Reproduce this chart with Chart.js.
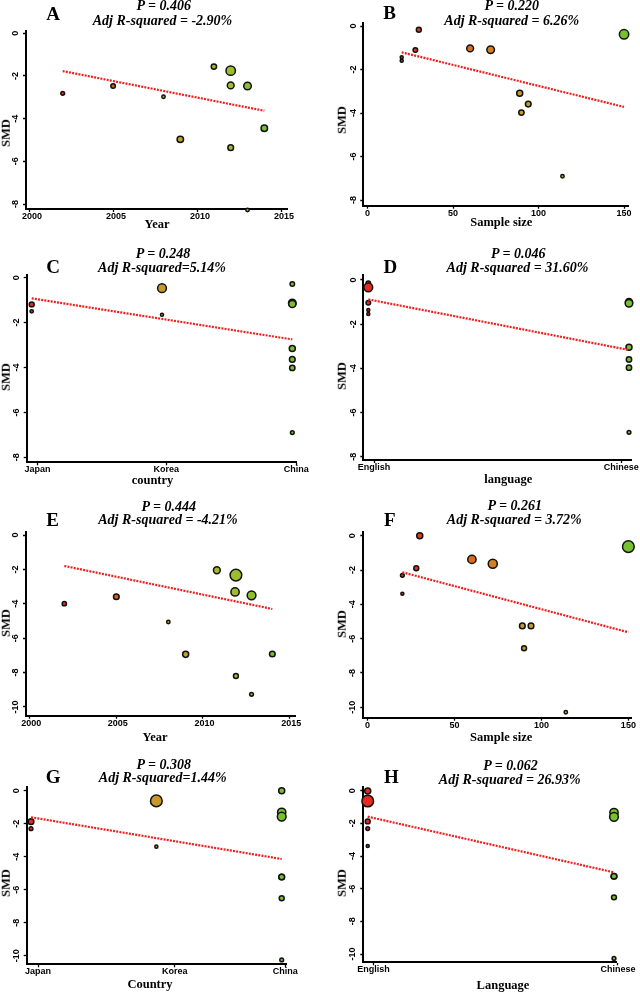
<!DOCTYPE html>
<html><head><meta charset="utf-8">
<script src="https://cdn.jsdelivr.net/npm/chart.js@4.4.1/dist/chart.umd.min.js"></script>
<style>
html,body{margin:0;padding:0;background:#fff;}
#wrap{position:relative;width:640px;height:992px;overflow:hidden;background:#fff;}
canvas{position:absolute;}
.t{position:absolute;white-space:nowrap;line-height:1;color:#000;font-family:"Liberation Serif","Times New Roman",serif;font-weight:bold;}
</style></head><body><div id="wrap"></div>
<script>
// ---------- tick labels / categories ----------
const yearTicks = [2000, 2005, 2010, 2015];
const sizeTicks = [0, 50, 100, 150];
const smdTicks8 = [0, -2, -4, -6, -8];
const smdTicks10 = [0, -2, -4, -6, -8, -10];
const countries = ['Japan', 'Korea', 'China'];
const languages = ['English', 'Chinese'];

// ---------- Panel A : SMD vs year ----------
const yearA = [2002, 2005, 2008, 2009, 2011, 2012, 2012, 2013, 2012, 2014, 2013];
const smdA = [-2.81, -2.47, -2.97, -4.97, -1.56, -1.75, -2.44, -2.47, -5.36, -4.45, -8.28];
const weightA = [4.3, 5.8, 3.7, 10.5, 7.6, 20.2, 11.4, 13.8, 8.4, 10.5, 3.7];
const fitXA = [2002, 2014];
const fitYA = [-1.77, -3.63];

// ---------- Panel B : SMD vs sample size ----------
const sizeB = [30, 28, 20, 20, 60, 72, 89, 94, 90, 114, 150];
const smdB = [-0.17, -1.10, -1.44, -1.60, -1.03, -1.09, -3.09, -3.59, -3.98, -6.91, -0.38];
const weightB = [6.6, 5.8, 3.2, 3.2, 11.4, 13.8, 9.3, 8.4, 7.6, 3.7, 20.2];
const fitXB = [20, 150];
const fitYB = [-1.21, -3.72];

// ---------- Panel C : SMD vs country ----------
const countryC = ['Japan', 'Japan', 'Korea', 'Korea', 'China', 'China', 'China', 'China', 'China', 'China', 'China'];
const smdC = [-1.19, -1.50, -0.47, -1.65, -0.28, -1.13, -1.17, -3.15, -3.64, -4.02, -6.90];
const weightC = [6.6, 3.7, 17.7, 3.2, 5.8, 13.8, 12.4, 9.3, 8.4, 7.6, 4.3];
const fitXC = ['Japan', 'China'];
const fitYC = [-0.92, -2.75];

// ---------- Panel D : SMD vs language ----------
const languageD = ['English', 'English', 'English', 'English', 'English', 'Chinese', 'Chinese', 'Chinese', 'Chinese', 'Chinese', 'Chinese'];
const smdD = [-0.15, -0.33, -1.03, -1.36, -1.54, -1.00, -1.05, -3.05, -3.60, -3.97, -6.90];
const weightD = [5.8, 17.7, 5.8, 3.2, 3.2, 12.4, 13.8, 9.3, 7.6, 7.6, 4.3];
const fitXD = ['English', 'Chinese'];
const fitYD = [-0.88, -3.17];

// ---------- Panel E : SMD vs year ----------
const yearE = [2002, 2005, 2008, 2009, 2010.8, 2011.9, 2011.85, 2012.8, 2011.9, 2012.8, 2014];
const smdE = [-3.99, -3.59, -5.06, -6.94, -2.05, -2.33, -3.31, -3.51, -8.20, -9.26, -6.92];
const weightE = [5.2, 8.4, 3.7, 9.3, 11.4, 29.8, 16.1, 17.7, 6.6, 4.3, 8.4];
const fitXE = [2002, 2014];
const fitYE = [-1.80, -4.30];

// ---------- Panel F : SMD vs sample size ----------
const sizeF = [30, 28, 20, 20, 60, 72, 89, 94, 90, 114, 150];
const smdF = [0.00, -1.90, -2.31, -3.38, -1.38, -1.63, -5.26, -5.26, -6.56, -10.29, -0.64];
const weightF = [9.3, 6.6, 4.3, 3.2, 16.1, 18.9, 8.4, 8.4, 6.6, 3.7, 29.8];
const fitXF = [20, 150];
const fitYF = [-2.13, -5.63];

// ---------- Panel G : SMD vs country ----------
const countryG = ['Japan', 'Japan', 'Korea', 'Korea', 'China', 'China', 'China', 'China', 'China', 'China', 'China'];
const smdG = [-1.88, -2.30, -0.62, -3.39, 0.00, -1.31, -1.57, -5.23, -5.23, -6.52, -10.26];
const weightG = [8.4, 4.3, 29.8, 3.2, 9.3, 16.1, 17.7, 8.4, 8.4, 6.6, 4.3];
const fitXG = ['Japan', 'China'];
const fitYG = [-1.61, -4.14];

// ---------- Panel H : SMD vs language ----------
const languageH = ['English', 'English', 'English', 'English', 'English', 'Chinese', 'Chinese', 'Chinese', 'Chinese', 'Chinese', 'Chinese'];
const smdH = [-0.02, -0.63, -1.88, -2.32, -3.39, -1.34, -1.60, -5.24, -5.24, -6.53, -10.27];
const weightH = [9.3, 29.8, 6.6, 4.3, 3.2, 16.1, 17.7, 8.4, 8.4, 6.6, 4.3];
const fitXH = ['English', 'Chinese'];
const fitYH = [-1.59, -5.00];

// ---------- helpers ----------
const catCode = (list) => (v) => list.indexOf(v) + 1;
const ramp = [[0, [232, 42, 28]], [0.3, [218, 106, 30]], [0.5, [200, 152, 42]], [0.7, [176, 180, 42]], [0.85, [152, 192, 44]], [1, [120, 192, 48]]];
function colorAt(t) {
  t = Math.max(0, Math.min(1, t));
  for (let i = 1; i < ramp.length; i++) {
    if (t <= ramp[i][0]) {
      const a = ramp[i - 1], b = ramp[i];
      const f = (t - a[0]) / (b[0] - a[0]);
      const c = a[1].map((v, k) => Math.round(v + (b[1][k] - v) * f));
      return 'rgb(' + c.join(',') + ')';
    }
  }
  return 'rgb(120,192,48)';
}
const radiusOf = (w) => Math.sqrt(w) * 1.17 - 0.55;

const SANS = '"Liberation Sans", Arial, sans-serif';
const wrap = document.getElementById('wrap');

function txt(s, cx, base, size, italic) {
  const d = document.createElement('div');
  d.className = 't';
  d.textContent = s;
  d.style.fontSize = size + 'px';
  if (italic) d.style.fontStyle = 'italic';
  d.style.left = cx + 'px';
  d.style.top = (base - 0.8375 * size) + 'px';
  d.style.transform = 'translateX(-50%)';
  wrap.appendChild(d);
}
function vtxt(s, cx, cy, size) {
  const d = document.createElement('div');
  d.className = 't';
  d.textContent = s;
  d.style.fontSize = size + 'px';
  d.style.left = cx + 'px';
  d.style.top = cy + 'px';
  d.style.transform = 'translate(-50%,-50%) rotate(-90deg)';
  wrap.appendChild(d);
}

function panel(p) {
  const [cx, cy, cw, ch] = p.canvas;
  const [L, T, R, B] = p.area;
  const cv = document.createElement('canvas');
  cv.width = cw; cv.height = ch;
  cv.style.left = cx + 'px'; cv.style.top = cy + 'px';
  cv.style.width = cw + 'px'; cv.style.height = ch + 'px';
  wrap.appendChild(cv);

  const xs = p.xs, ys = p.ys, ws = p.ws;
  const xmin = Math.min(...xs), xmax = Math.max(...xs);
  const pts = xs.map((x, i) => ({x: x, y: ys[i]}));
  const cols = xs.map(x => colorAt((x - xmin) / (xmax - xmin)));
  const fit = p.fx.map((x, i) => ({x: x, y: p.fy[i]}));

  new Chart(cv, {
    type: 'scatter',
    data: {
      datasets: [
        {
          data: pts, order: 1, clip: false,
          pointRadius: ws.map(radiusOf),
          pointHoverRadius: ws.map(radiusOf),
          pointBackgroundColor: cols,
          pointBorderColor: '#111',
          pointBorderWidth: 1.5
        },
        {
          type: 'line', data: fit, order: 0,
          borderColor: '#f01e1e', borderWidth: 2.2, borderDash: [2, 1.2],
          pointRadius: 0, fill: false, showLine: true, tension: 0
        }
      ]
    },
    options: {
      responsive: false, animation: false, events: [],
      devicePixelRatio: 1,
      layout: {padding: {left: 0, top: T - cy, right: cx + cw - R, bottom: 0}},
      plugins: {legend: {display: false}, tooltip: {enabled: false}, title: {display: false}},
      scales: {
        x: {
          type: 'linear', min: p.x.min, max: p.x.max,
          afterFit: s => { s.height = cy + ch - B; s.paddingLeft = 0; s.paddingRight = 0; },
          afterBuildTicks: s => { s.ticks = p.x.at.map(v => ({value: v})); },
          ticks: {
            autoSkip: false, maxRotation: 0, minRotation: 0, padding: 0,
            labelOffset: p.x.labelOffset || 0, color: '#000',
            font: {family: SANS, weight: 'bold', size: 9, lineHeight: 1},
            callback: (v, i) => p.x.labels[i]
          },
          grid: {display: true, drawOnChartArea: false, drawTicks: true, tickLength: 3, tickColor: '#000', tickWidth: 1.3},
          border: {display: true, color: '#000', width: 2}
        },
        y: {
          type: 'linear', min: p.y.min, max: p.y.max,
          afterFit: s => { s.width = L - cx; s.paddingTop = 0; s.paddingBottom = 0; },
          afterBuildTicks: s => { s.ticks = p.y.at.map(v => ({value: v})); },
          ticks: {
            autoSkip: false, minRotation: 90, maxRotation: 90, crossAlign: 'center',
            padding: p.y.pad, color: '#000',
            font: {family: SANS, weight: 'bold', size: 9, lineHeight: 1},
            callback: v => String(v)
          },
          grid: {display: true, drawOnChartArea: false, drawTicks: true, tickLength: 3, tickColor: '#000', tickWidth: 1.3},
          border: {display: true, color: '#000', width: 2}
        }
      }
    }
  });

  txt(p.letter[0], p.letter[1], p.letter[2], 19, false);
  txt(p.pline[0], p.pline[1], p.pline[2], 14, true);
  txt(p.rline[0], p.rline[1], p.rline[2], 14, true);
  txt(p.xtitle[0], p.xtitle[1], p.xtitle[2], 12.5, false);
  vtxt('SMD', p.smd[0], p.smd[1], 12.5);
}

const cC = catCode(countries), cL = catCode(languages);
const yearLab = yearTicks.map(String), sizeLab = sizeTicks.map(String);

const panels = [
  {canvas: [0, 0, 320, 240], area: [26, 31, 287, 209],
   x: {min: 1999.815, max: 2015.351, at: yearTicks, labels: yearLab, labelOffset: 3},
   y: {min: -8.233, max: 0.108, at: smdTicks8, pad: 3},
   xs: yearA, ys: smdA, ws: weightA, fx: fitXA, fy: fitYA,
   letter: ['A', 53, 20], pline: ['P = 0.406', 163.8, 11], rline: ['Adj R-squared = -2.90%', 162.5, 25.7],
   xtitle: ['Year', 157, 228.3], smd: [6, 133]},
  {canvas: [320, 0, 320, 240], area: [363.3, 22.7, 628.3, 205.7],
   x: {min: -2.456, max: 152.49, at: sizeTicks, labels: sizeLab},
   y: {min: -8.262, max: 0.152, at: smdTicks8, pad: 3},
   xs: sizeB, ys: smdB, ws: weightB, fx: fitXB, fy: fitYB,
   letter: ['B', 389.5, 19], pline: ['P = 0.220', 511.7, 10.5], rline: ['Adj R-squared = 6.26%', 511.7, 25.7],
   xtitle: ['Sample size', 501.3, 226.6], smd: [342, 120.3]},
  {canvas: [0, 240, 320, 250], area: [26.7, 275, 296.7, 462.3],
   x: {min: 0.9616, max: 3.0338, at: [1.045, 2.032, 3.03], labels: countries},
   y: {min: -8.223, max: 0.12, at: smdTicks8, pad: 3},
   xs: countryC.map(cC), ys: smdC, ws: weightC, fx: fitXC.map(cC), fy: fitYC,
   letter: ['C', 53, 273.3], pline: ['P = 0.248', 163, 259], rline: ['Adj R-squared=5.14%', 162, 272.7],
   xtitle: ['country', 152.5, 484.5], smd: [6, 376.7]},
  {canvas: [320, 240, 320, 250], area: [363.3, 275, 631.7, 460],
   x: {min: 0.9808, max: 2.0104, at: [1.022, 1.97], labels: languages},
   y: {min: -8.152, max: 0.226, at: smdTicks8, pad: 3},
   xs: languageD.map(cL), ys: smdD, ws: weightD, fx: fitXD.map(cL), fy: fitYD,
   letter: ['D', 390.3, 273.3], pline: ['P = 0.046', 518.3, 259], rline: ['Adj R-squared = 31.60%', 517.5, 272.3],
   xtitle: ['language', 508.3, 483.3], smd: [342, 375.8]},
  {canvas: [0, 490, 320, 250], area: [26, 531.7, 295, 715.7],
   x: {min: 1999.789, max: 2015.308, at: yearTicks, labels: yearLab, labelOffset: 1.5},
   y: {min: -10.506, max: 0.192, at: smdTicks10, pad: 1},
   xs: yearE, ys: smdE, ws: weightE, fx: fitXE, fy: fitYE,
   letter: ['E', 52.5, 526], pline: ['P = 0.444', 168.8, 511.7], rline: ['Adj R-squared = -4.21%', 168, 525],
   xtitle: ['Year', 155, 741], smd: [5.5, 623.3]},
  {canvas: [320, 490, 320, 250], area: [363.3, 531.7, 631.7, 717.7],
   x: {min: -2.473, max: 151.91, at: sizeTicks, labels: sizeLab},
   y: {min: -10.606, max: 0.233, at: smdTicks10, pad: 1},
   xs: sizeF, ys: smdF, ws: weightF, fx: fitXF, fy: fitYF,
   letter: ['F', 389.7, 526], pline: ['P = 0.261', 514.8, 510.7], rline: ['Adj R-squared = 3.72%', 514.2, 525],
   xtitle: ['Sample size', 501.2, 741.6], smd: [341.7, 624]},
  {canvas: [0, 740, 320, 252], area: [26.7, 786.7, 286, 964.3],
   x: {min: 0.9657, max: 3.0343, at: [1.056, 2.146, 3.029], labels: countries},
   y: {min: -10.521, max: 0.242, at: smdTicks10, pad: 1},
   xs: countryG.map(cC), ys: smdG, ws: weightG, fx: fitXG.map(cC), fy: fitYG,
   letter: ['G', 53.2, 783.3], pline: ['P = 0.308', 163.8, 769.5], rline: ['Adj R-squared=1.44%', 162.7, 782.3],
   xtitle: ['Country', 150, 988.5], smd: [6, 883.3]},
  {canvas: [320, 740, 320, 252], area: [363.3, 786.7, 616.7, 962.3],
   x: {min: 0.9821, max: 2.011, at: [1.024, 2.016], labels: languages},
   y: {min: -10.508, max: 0.245, at: smdTicks10, pad: 1},
   xs: languageH.map(cL), ys: smdH, ws: weightH, fx: fitXH.map(cL), fy: fitYH,
   letter: ['H', 391.3, 783.3], pline: ['P = 0.062', 510.5, 770.7], rline: ['Adj R-squared = 26.93%', 509.7, 785],
   xtitle: ['Language', 503, 989], smd: [342, 882.5]}
];
panels.forEach(panel);
</script></body></html>
